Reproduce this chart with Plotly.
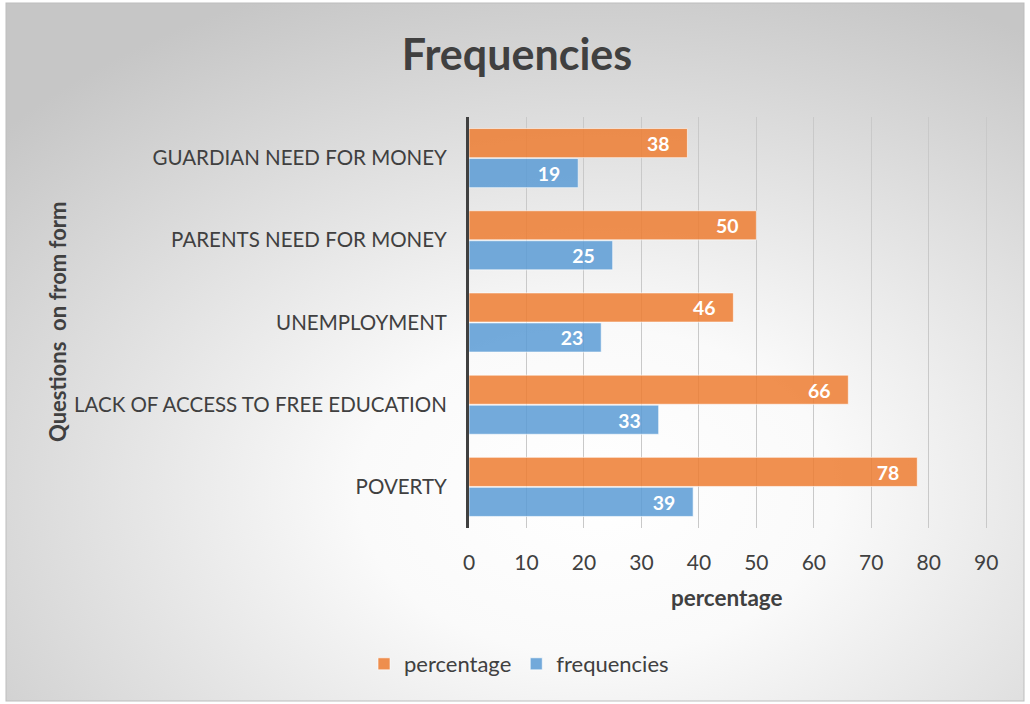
import base64
import plotly.graph_objects as go

categories = ["POVERTY", "LACK OF ACCESS TO FREE EDUCATION", "UNEMPLOYMENT",
              "PARENTS NEED FOR MONEY", "GUARDIAN NEED FOR MONEY"]
percentage = [78, 66, 46, 50, 38]
frequencies = [39, 33, 23, 25, 19]
x_ticks = [0, 10, 20, 30, 40, 50, 60, 70, 80, 90]

W, H = 1030, 704
L, R, T, B = 469, 38, 117, 176
pw, ph = W - L - R, H - T - B

svg = f'''<svg xmlns="http://www.w3.org/2000/svg" width="{W}" height="{H}" viewBox="0 0 {W} {H}" preserveAspectRatio="none">
<defs><radialGradient id="g" cx="58%" cy="70%" r="78%" gradientUnits="objectBoundingBox">
<stop offset="0" stop-color="#ffffff"/><stop offset="0.3" stop-color="#fafafa"/><stop offset="1" stop-color="#c6c6c6"/></radialGradient></defs>
<rect x="0" y="0" width="{W}" height="{H}" fill="#ffffff"/>
<rect x="6" y="3" width="{W-12}" height="{H-6}" fill="url(#g)" stroke="#bdbdbd" stroke-width="1"/>
</svg>'''
src = "data:image/svg+xml;base64," + base64.b64encode(svg.encode()).decode()

FONT = "Lato"
DARK = "#404040"

fig = go.Figure()
fig.add_trace(go.Bar(
    y=categories, x=frequencies, name="frequencies", orientation="h",
    marker=dict(color="rgba(91,155,213,0.85)", line=dict(color="rgba(255,255,255,0.6)", width=1)),
    texttemplate="<b>%{x}</b>\u00a0\u00a0\u00a0", textposition="inside", insidetextanchor="end",
    textfont=dict(color="white", size=21, family=FONT),
))
fig.add_trace(go.Bar(
    y=categories, x=percentage, name="percentage", orientation="h",
    marker=dict(color="rgba(237,125,49,0.85)", line=dict(color="rgba(255,255,255,0.6)", width=1)),
    texttemplate="<b>%{x}</b>\u00a0\u00a0\u00a0", textposition="inside", insidetextanchor="end",
    textfont=dict(color="white", size=21, family=FONT),
))

fig.update_layout(
    width=W, height=H,
    margin=dict(l=L, r=R, t=T, b=B),
    paper_bgcolor="rgba(0,0,0,0)", plot_bgcolor="rgba(0,0,0,0)",
    barmode="group", bargap=0.27, bargroupgap=0.03,
    font=dict(family=FONT, color=DARK),
    title=dict(text="<b>Frequencies</b>", x=517 / W, xanchor="center",
               y=1 - 55 / H, yanchor="middle", font=dict(size=43, color=DARK, family=FONT)),
    xaxis=dict(range=[0, 91], tickvals=x_ticks, showgrid=True, gridcolor="#c9c9c9", gridwidth=1,
               zeroline=False, showline=False, ticks="outside", ticklen=16,
               tickcolor="rgba(0,0,0,0)", tickfont=dict(size=21, color=DARK, family=FONT)),
    yaxis=dict(showline=True, linecolor=DARK, linewidth=3, showgrid=False, zeroline=False,
               ticks="outside", ticklen=15, tickcolor="rgba(0,0,0,0)",
               tickfont=dict(size=20.5, color=DARK, family=FONT)),
    legend=dict(orientation="h", traceorder="reversed", x=(519 - L) / pw, xanchor="center",
                y=(T + ph - 664) / ph, yanchor="middle", font=dict(size=22, color=DARK, family=FONT),
                bgcolor="rgba(0,0,0,0)"),
    images=[dict(source=src, xref="paper", yref="paper", x=-L / pw, y=1 + T / ph,
                 sizex=W / pw, sizey=H / ph, xanchor="left", yanchor="top",
                 sizing="stretch", layer="below")],
    annotations=[
        dict(text="<b>percentage</b>", xref="paper", yref="paper", x=(727 - L) / pw,
             y=(T + ph - 597) / ph, showarrow=False, xanchor="center", yanchor="middle",
             font=dict(size=22.5, color=DARK, family=FONT)),
        dict(text="<b>Questions  on from form</b>", xref="paper", yref="paper", x=(57 - L) / pw,
             y=(T + ph - 322) / ph, showarrow=False, xanchor="center", yanchor="middle",
             textangle=-90, font=dict(size=22, color=DARK, family=FONT)),
    ],
)

fig.write_html("out.html")
